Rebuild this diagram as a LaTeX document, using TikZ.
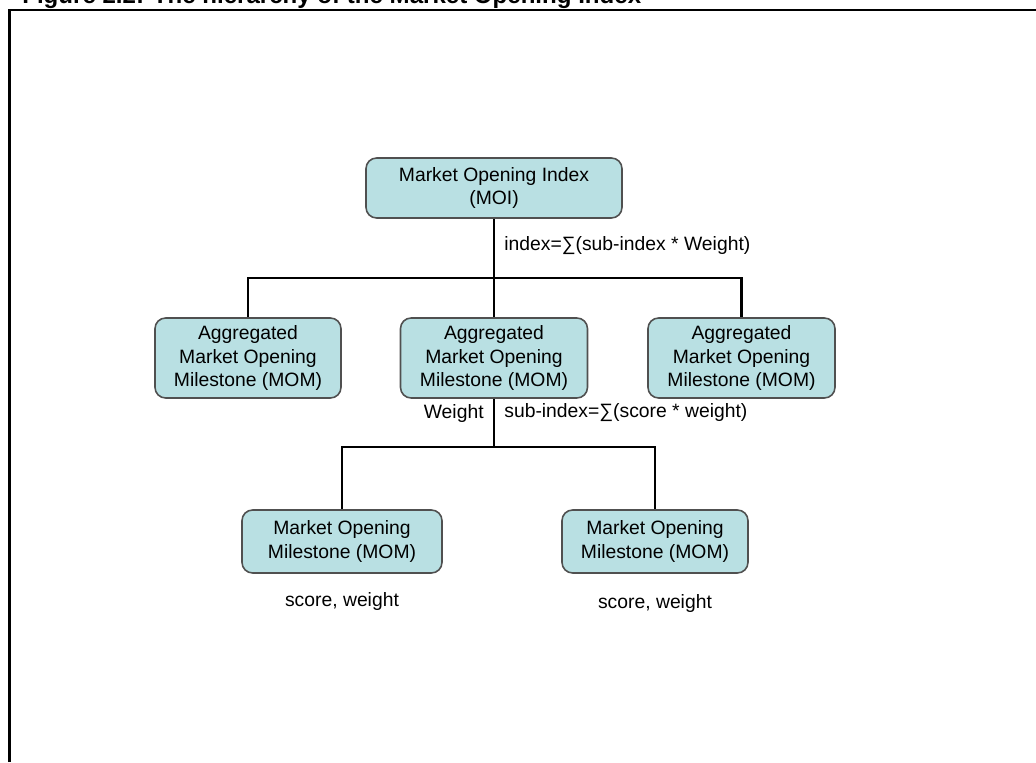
\documentclass[tikz,border=0pt]{standalone}
\usepackage{fontspec}
\setmainfont{Liberation Sans}
\usepackage{tikz}
\usetikzlibrary{positioning}
\definecolor{boxfill}{RGB}{185,224,227}
\definecolor{boxline}{RGB}{80,80,80}
\tikzset{
  mombox/.style={draw=boxline, line width=0.9pt, fill=boxfill, rounded corners=6pt,
    align=center, inner sep=0pt, font=\fontsize{11}{13.6}\selectfont},
  link/.style={black, line width=1.6pt},
  lbl/.style={inner sep=0pt, font=\fontsize{11}{13}\selectfont}
}

\begin{document}
\begin{tikzpicture}[x=0.02cm,y=-0.02cm]
		\useasboundingbox (0,0) rectangle (1036,762);
		% title and frame
		\node[anchor=base west, inner sep=0pt, font=\fontsize{13.7}{16}\selectfont\bfseries] (title) at (22,3) {Figure 2.2: The hierarchy of the Market Opening Index};
		\draw[line width=1.6pt] (9.5,762) -- (9.5,10) -- (1036,10);
		% boxes
		\node[mombox, minimum width=5.12cm, minimum height=1.2cm] (moi) at (494,188) {Market Opening Index\\(MOI)};
		\node[mombox, minimum width=3.72cm, minimum height=1.6cm] (aggL) at (248,358) {Aggregated\\Market Opening\\Milestone (MOM)};
		\node[mombox, minimum width=3.74cm, minimum height=1.6cm] (aggC) at (494,358) {Aggregated\\Market Opening\\Milestone (MOM)};
		\node[mombox, minimum width=3.74cm, minimum height=1.6cm] (aggR) at (741.5,358) {Aggregated\\Market Opening\\Milestone (MOM)};
		\node[mombox, minimum width=4cm, minimum height=1.26cm] (momL) at (342,541.5) {Market Opening\\Milestone (MOM)};
		\node[mombox, minimum width=3.72cm, minimum height=1.26cm] (momR) at (655,541.5) {Market Opening\\Milestone (MOM)};
		% labels
		\node[lbl, anchor=west] (idxf) at (504,246) {index=∑(sub-index * Weight)};
		\node[lbl, anchor=east] (wgt) at (484,413) {Weight};
		\node[lbl, anchor=west] (subf) at (504,413) {sub-index=∑(score * weight)};
		\node[lbl] (scL) at (342,601) {score, weight};
		\node[lbl] (scR) at (655,603) {score, weight};
		% connectors
		\coordinate (j1) at (494,278);
		\coordinate (j2) at (494,447);
		\draw[link] (moi.south) -- (j1);
		\draw[link] (j1) -| (aggL.north);
		\draw[link] (j1) -| (aggR.north);
		\draw[link] (j1) -- (aggC.north);
		\draw[link] (aggC.south) -- (j2);
		\draw[link] (j2) -| (momL.north);
		\draw[link] (j2) -| (momR.north);
	\end{tikzpicture}
\end{document}
